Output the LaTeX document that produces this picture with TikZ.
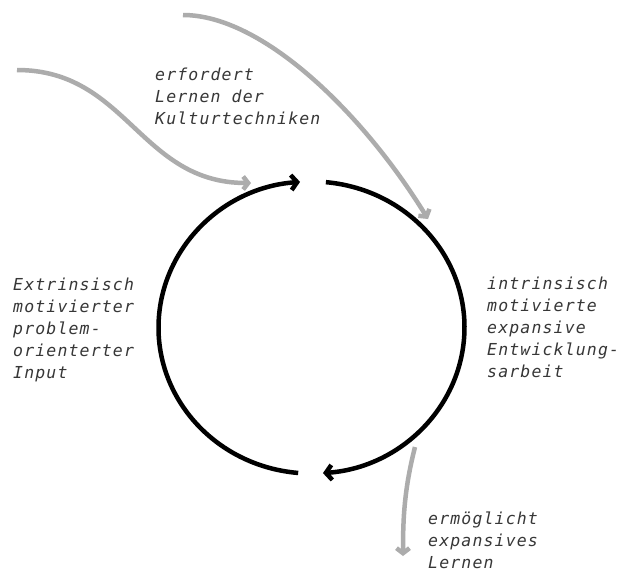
\documentclass[tikz,border=0pt]{standalone}
\usepackage{fontspec}
\usetikzlibrary{arrows.meta,calc}
\newfontfamily\labelfont[LetterSpace=7]{DejaVu Sans Mono}
\definecolor{flowgray}{RGB}{172,172,172}
\definecolor{labelink}{RGB}{55,55,55}
\begin{document}
\begin{tikzpicture}[x=1pt,y=-1pt,
  cycle/.style={line width=4.5pt,black,-{Straight Barb[length=6pt,width=15pt]}},
  flow/.style={line width=4.5pt,flowgray,-{Straight Barb[length=5pt,width=13pt]}},
  caption/.style={font=\labelfont\itshape\fontsize{16.5}{22}\selectfont,text=labelink,
    align=left,inner sep=0pt,anchor=base west}]
  \useasboundingbox[fill=white] (0,0) rectangle (624,571);
  % centre of the cycle
  \coordinate (c) at (311.5,327.5);
  % left half: from the bottom, up the left side, to the top
  \draw[cycle] ($(c)+(95:153 and 146)$) arc[start angle=95,end angle=265.7,x radius=153,y radius=146];
  % right half: from the top, down the right side, to the bottom
  \draw[cycle] ($(c)+(-84.6:153 and 146)$) arc[start angle=-84.6,end angle=85.7,x radius=153,y radius=146];
  % incoming and outgoing flows
  \coordinate (inA) at (17,70);
  \coordinate (inAend) at (251,183);
  \coordinate (inB) at (183,15);
  \coordinate (inBend) at (428,219);
  \coordinate (outS) at (415,447);
  \coordinate (outE) at (403,556);
  \draw[flow] (inA) .. controls (127,70) and (140,183) .. (inAend);
  \draw[flow] (inB) .. controls (262,15) and (362,112) .. (inBend);
  \draw[flow] (outS) .. controls (404,490) and (403,520) .. (outE);
  % labels (positioned at the baseline of their last line)
  \node[caption] (top) at (155,124) {erfordert\\Lernen der\\Kulturtechniken};
  \node[caption] (left) at (13,378) {Extrinsisch\\motivierter\\problem-\\orienterter\\Input};
  \node[caption] (right) at (487,377) {intrinsisch\\motivierte\\expansive\\Entwicklung-\\sarbeit};
  \node[caption] (bottom) at (428,568) {ermöglicht\\expansives\\Lernen};
\end{tikzpicture}
\end{document}
